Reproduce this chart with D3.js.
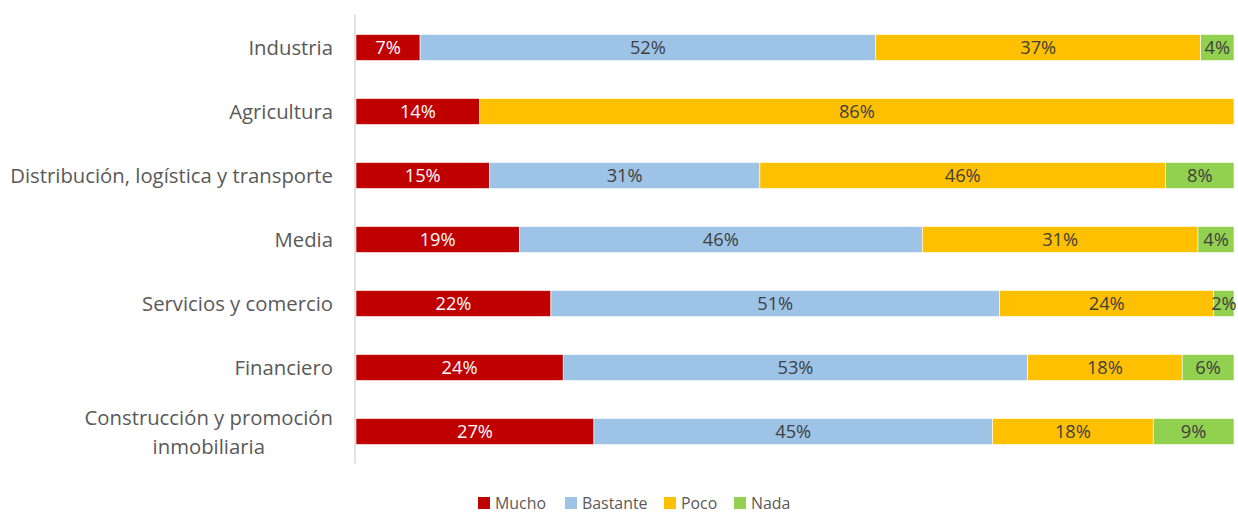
<!DOCTYPE html>
<html>
<head>
<meta charset="utf-8">
<script src="https://cdn.jsdelivr.net/npm/d3@7"></script>
<style>
  html, body { margin: 0; padding: 0; background: #fff; }
  svg { display: block; }
</style>
</head>
<body>
<svg id="chart" width="1238" height="513"></svg>
<script>
const categories = [
  "Industria",
  "Agricultura",
  "Distribución, logística y transporte",
  "Media",
  "Servicios y comercio",
  "Financiero",
  "Construcción y promoción|inmobiliaria"
];
const seriesNames = ["Mucho", "Bastante", "Poco", "Nada"];
const mucho    = [7.3, 14.1, 15.2, 18.6, 22.2, 23.6, 27.1];
const bastante = [51.9, 0,   30.8, 45.9, 51.1, 52.9, 45.4];
const poco     = [37.0, 85.9, 46.2, 31.4, 24.4, 17.6, 18.3];
const nada     = [3.8,  0,    7.8,  4.1,  2.3,  5.9,  9.2];
const seriesColors = ["#C00000", "#9DC3E6", "#FFC000", "#92D050"];
const labelColors = ["#ffffff", "#404040", "#404040", "#404040"];

const FONT = "'Open Sans', Lato, sans-serif";

const rows = categories.map((c, i) => ({
  cat: c, Mucho: mucho[i], Bastante: bastante[i], Poco: poco[i], Nada: nada[i]
}));
rows.forEach(r => { r.total = seriesNames.reduce((s, k) => s + r[k], 0); });

const svg = d3.select("#chart");

// fit font sizes to the widths measured on the reference
function fitSize(text, targetW, base) {
  const t = svg.append("text").attr("font-family", FONT).attr("font-size", base).text(text);
  const w = t.node().getComputedTextLength();
  t.remove();
  return base * targetW / w;
}
const catSize = fitSize("Distribución, logística y transporte", 323, 20);
const valSize = fitSize("52%", 36, 20);
const legSize = fitSize("Mucho", 51, 20);

const x0 = 356, x1 = 1234, yTop = 15.5, yBot = 463.5;
const x = d3.scaleLinear().domain([0, 1]).range([x0, x1]);
const y = d3.scaleBand().domain(categories).range([yTop, yBot]).paddingInner(0.594).paddingOuter(0.297);

const stacked = d3.stack().keys(seriesNames).value((d, k) => d[k] / d.total)(rows);

const g = svg.append("g");
stacked.forEach((layer, si) => {
  const lg = g.append("g");
  lg.selectAll("rect").data(layer).join("rect")
    .attr("x", d => x(d[0]))
    .attr("width", d => Math.max(0, x(d[1]) - x(d[0])))
    .attr("y", d => y(d.data.cat))
    .attr("height", y.bandwidth())
    .attr("fill", seriesColors[si])
    .attr("stroke", "#ffffff")
    .attr("stroke-width", 0.6);
  lg.selectAll("text").data(layer.filter(d => d.data[layer.key] > 0)).join("text")
    .attr("x", d => (x(d[0]) + x(d[1])) / 2)
    .attr("y", d => y(d.data.cat) + y.bandwidth() / 2)
    .attr("dy", "0.36em")
    .attr("text-anchor", "middle")
    .attr("font-family", FONT)
    .attr("font-size", valSize)
    .attr("fill", labelColors[si])
    .text(d => Math.round(d.data[layer.key]) + "%");
});

// y axis
const yAxis = d3.axisLeft(y).tickSize(0).tickPadding(0).tickFormat("");
const ag = svg.append("g").attr("transform", `translate(${x0 - 0.5},0)`).call(yAxis);
ag.select(".domain").remove();
svg.append("line")
  .attr("x1", x0 - 1).attr("x2", x0 - 1)
  .attr("y1", yTop - 1).attr("y2", yBot)
  .attr("stroke", "#d9d9d9").attr("stroke-width", 1.5);

const labG = svg.append("g");
categories.forEach(c => {
  const lines = c.split("|");
  const cy = y(c) + y.bandwidth() / 2;
  if (lines.length === 1) {
    labG.append("text")
      .attr("x", 333).attr("y", cy).attr("dy", "0.36em")
      .attr("text-anchor", "end")
      .attr("font-family", FONT).attr("font-size", catSize)
      .attr("fill", "#595959").text(c);
  } else {
    const t = labG.append("text")
      .attr("font-family", FONT).attr("font-size", catSize)
      .attr("fill", "#595959").attr("text-anchor", "middle");
    const spans = lines.map(l => t.append("tspan").text(l));
    const w = Math.max(...spans.map(s => s.node().getComputedTextLength()));
    const cx = 333 - w / 2;
    spans.forEach((s, i) => s.attr("x", cx).attr("y", cy - 14 + i * 29).attr("dy", "0.36em"));
  }
});

// legend
const legendX = [478, 565, 664, 734];
const lgd = svg.append("g");
seriesNames.forEach((n, i) => {
  lgd.append("rect").attr("x", legendX[i]).attr("y", 497).attr("width", 12).attr("height", 12)
    .attr("fill", seriesColors[i]);
  lgd.append("text").attr("x", legendX[i] + 17).attr("y", 503).attr("dy", "0.36em")
    .attr("font-family", FONT).attr("font-size", legSize).attr("fill", "#595959").text(n);
});
</script>
</body>
</html>
